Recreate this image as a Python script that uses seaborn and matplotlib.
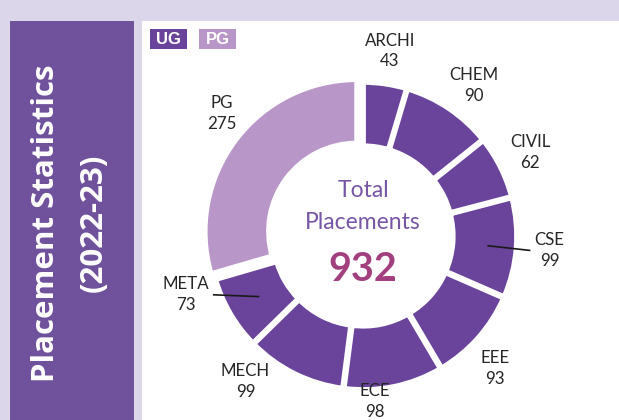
import matplotlib
matplotlib.use("Agg")
import matplotlib.pyplot as plt
import seaborn as sns
import numpy as np
from matplotlib.patches import Rectangle

# ---- data ----
categories = ["ARCHI", "CHEM", "CIVIL", "CSE", "EEE", "ECE", "MECH", "META", "PG"]
values = [43, 90, 62, 99, 93, 98, 99, 73, 275]
groups = ["UG", "UG", "UG", "UG", "UG", "UG", "UG", "UG", "PG"]
legend_labels = ["UG", "PG"]
title_lines = ["Placement Statistics", "(2022-23)"]
center_lines = ["Total", "Placements"]
total = sum(values)

# ---- style ----
sns.set_theme(style="white")
plt.rcParams['font.family'] = ['Lato', 'DejaVu Sans']

palette = {"UG": "#69449A", "PG": "#B896C7"}
BG = "#DBD6EA"
PANEL = "#6F519C"
LABEL_C = "#262626"

W, H = 619, 420
fig = plt.figure(figsize=(W / 100, H / 100), dpi=100)
fig.patch.set_facecolor(BG)
fig.add_artist(Rectangle((142 / W, 0), (W - 142) / W, (H - 21) / H, transform=fig.transFigure,
                         facecolor="white", edgecolor="none", zorder=-2))
fig.add_artist(Rectangle((10 / W, 0), 124 / W, (H - 21) / H, transform=fig.transFigure,
                         facecolor=PANEL, edgecolor="none", zorder=-2))

# title in the left panel
fig.text(46 / W, 1 - 223 / H, title_lines[0], rotation=90, ha="center", va="center",
         color="white", fontsize=22.5, fontweight="bold", family=["Open Sans", "DejaVu Sans"])
fig.text(94 / W, 1 - 223 / H, title_lines[1], rotation=90, ha="center", va="center",
         color="white", fontsize=22.5, fontweight="bold", family=["Open Sans", "DejaVu Sans"])

# legend boxes
lx = [150, 199]
for x0, lab in zip(lx, legend_labels):
    fig.add_artist(Rectangle((x0 / W, 1 - 49 / H), 37 / W, 20 / H, transform=fig.transFigure,
                             facecolor=palette[lab], edgecolor="none"))
    fig.text((x0 + 18.5) / W, 1 - 39.5 / H, lab, ha="center", va="center", color="white",
             fontsize=12, fontweight="bold", family=["Liberation Sans", "DejaVu Sans"])

# ---- donut ----
ax = fig.add_axes([0, 0, 1, 1])
ax.patch.set_alpha(0)
cx, cy, s = 363, 236, 152  # pixel center and radius scale
colors = [palette[g] for g in groups]
explode = [0.012 if g == "UG" else 0.05 for g in groups]
wedges, _ = ax.pie(values, colors=colors, startangle=90, counterclock=False, radius=1.0,
                   explode=explode,
                   wedgeprops=dict(width=0.42, edgecolor="white", linewidth=3.8))
ax.set_aspect("auto")
ax.set_xlim(-cx / s, (W - cx) / s)
ax.set_ylim(-(H - cy) / s, cy / s)
ax.axis("off")

# label placement (style): radius and clockwise angle shift in degrees
label_r = {"ECE": 1.09}
label_shift = {"CHEM": 2.5, "EEE": 3.5, "ECE": 7.5, "MECH": 12.5, "META": 12, "PG": 4}
leader = {"CSE": (0.82, 1.0), "META": (0.79, -1.0)}
leader_gap = {"CSE": 0.125, "META": 0.18}

for w, cat, val in zip(wedges, categories, values):
    mid = (w.theta1 + w.theta2) / 2
    ang = np.deg2rad(mid - label_shift.get(cat, 0))
    r = label_r.get(cat, 1.23)
    lxp, lyp = r * np.cos(ang), r * np.sin(ang)
    ax.text(lxp, lyp, f"{cat}\n{val}", ha="center", va="center", fontsize=12.2,
            color=LABEL_C, linespacing=1.38)
    if cat in leader:
        r0, side = leader[cat]
        m = np.deg2rad(mid)
        x0, y0 = r0 * np.cos(m), r0 * np.sin(m)
        x1 = lxp - side * leader_gap[cat]
        ax.plot([x0, x1], [y0, lyp], color="#1a1a1a", lw=1.2, solid_capstyle="butt")

# center text
ax.text(0, 0.30, center_lines[0], ha="center", va="center", fontsize=16.5, color="#7756A6")
ax.text(0, 0.09, center_lines[1], ha="center", va="center", fontsize=16.5, color="#7756A6")
ax.text(0, -0.22, f"{total}", ha="center", va="center", fontsize=28.5, fontweight="bold",
        color="#A2407F")

fig.savefig("out.png", dpi=100, facecolor=fig.get_facecolor())
